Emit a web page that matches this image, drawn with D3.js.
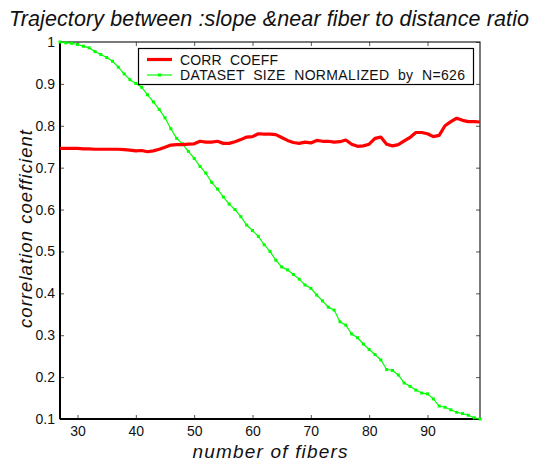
<!DOCTYPE html>
<html>
<head>
<meta charset="utf-8">
<script src="https://cdn.jsdelivr.net/npm/d3@7"></script>
<style>
  html, body { margin: 0; padding: 0; background: #fff; }
  svg { display: block; font-family: "Liberation Sans", Arial, sans-serif; }
</style>
</head>
<body>
<svg id="chart" width="534" height="461"></svg>
<script>
// Number of fibers (x), one sample per fiber count
const fiberCounts = d3.range(27, 100);

// Correlation coefficient between slope and near-fiber-to-distance ratio
const corrCoeff = [
  0.746, 0.746, 0.746, 0.746, 0.745, 0.745, 0.744, 0.744, 0.744, 0.744,
  0.744, 0.743, 0.742, 0.740, 0.741, 0.738, 0.740, 0.744, 0.749, 0.754,
  0.755, 0.755, 0.756, 0.757, 0.763, 0.761, 0.761, 0.763, 0.758, 0.758,
  0.762, 0.767, 0.773, 0.774, 0.781, 0.780, 0.780, 0.779, 0.772, 0.765,
  0.760, 0.758, 0.761, 0.759, 0.765, 0.763, 0.763, 0.761, 0.762, 0.766,
  0.756, 0.751, 0.752, 0.756, 0.770, 0.773, 0.756, 0.752, 0.755, 0.764,
  0.772, 0.784, 0.784, 0.781, 0.774, 0.777, 0.800, 0.810, 0.818, 0.813,
  0.810, 0.810, 0.809
];

// Dataset size normalized by N=626
const datasetSize = [
  1.000, 0.998, 0.997, 0.994, 0.990, 0.986, 0.977, 0.970, 0.963, 0.954,
  0.940, 0.924, 0.910, 0.901, 0.892, 0.874, 0.857, 0.839, 0.819, 0.793,
  0.770, 0.757, 0.739, 0.722, 0.703, 0.687, 0.665, 0.649, 0.630, 0.613,
  0.600, 0.583, 0.563, 0.550, 0.536, 0.516, 0.500, 0.479, 0.463, 0.456,
  0.445, 0.434, 0.420, 0.412, 0.396, 0.382, 0.367, 0.360, 0.332, 0.324,
  0.303, 0.294, 0.279, 0.266, 0.254, 0.241, 0.218, 0.216, 0.205, 0.186,
  0.178, 0.169, 0.162, 0.160, 0.148, 0.131, 0.128, 0.122, 0.116, 0.113,
  0.109, 0.103, 0.100
];

const xTicks = [30, 40, 50, 60, 70, 80, 90];
const yTicks = [0.1, 0.2, 0.3, 0.4, 0.5, 0.6, 0.7, 0.8, 0.9, 1];

const seriesNames = ["CORR  COEFF", "DATASET  SIZE  NORMALIZED  by  N=626"];
const seriesColors = ["#ff0000", "#00ff00"];

const svg = d3.select("#chart");
const plot = { left: 60, right: 480, top: 42, bottom: 419 };

const x = d3.scaleLinear().domain([27, 99]).range([plot.left, plot.right]);
const y = d3.scaleLinear().domain([0.1, 1]).range([plot.bottom, plot.top]);

// Axes with inward ticks on all four sides
const tickLen = 4;
const bottomAxis = svg.append("g").attr("transform", `translate(0,${plot.bottom})`)
  .call(d3.axisBottom(x).tickValues(xTicks).tickSize(-tickLen).tickPadding(7).tickFormat(d3.format("d")));
const topAxis = svg.append("g").attr("transform", `translate(0,${plot.top})`)
  .call(d3.axisTop(x).tickValues(xTicks).tickSize(-tickLen).tickFormat(""));
const leftAxis = svg.append("g").attr("transform", `translate(${plot.left},0)`)
  .call(d3.axisLeft(y).tickValues(yTicks).tickSize(-tickLen).tickPadding(5).tickFormat(d => d === 1 ? "1" : d3.format(".1f")(d)));
const rightAxis = svg.append("g").attr("transform", `translate(${plot.right},0)`)
  .call(d3.axisRight(y).tickValues(yTicks).tickSize(-tickLen).tickFormat(""));

[bottomAxis, topAxis, leftAxis, rightAxis].forEach(g => {
  g.select(".domain").remove();
  g.selectAll(".tick line").attr("stroke", "#555").attr("stroke-width", 1);
  g.selectAll(".tick text").attr("font-size", 14).attr("fill", "#111")
    .attr("font-family", "Liberation Sans, Arial, sans-serif");
});

// Frame
svg.append("rect")
  .attr("x", plot.left).attr("y", plot.top)
  .attr("width", plot.right - plot.left).attr("height", plot.bottom - plot.top)
  .attr("fill", "none").attr("stroke", "#222").attr("stroke-width", 1.2);
svg.append("line").attr("x1", plot.left).attr("x2", plot.left).attr("y1", plot.top).attr("y2", plot.bottom)
  .attr("stroke", "#000").attr("stroke-width", 2);
svg.append("line").attr("x1", plot.left).attr("x2", plot.right).attr("y1", plot.bottom).attr("y2", plot.bottom)
  .attr("stroke", "#000").attr("stroke-width", 2);

const line = d3.line().x((d, i) => x(fiberCounts[i])).y(d => y(d));

// Dataset size curve with point markers
svg.append("path").datum(datasetSize)
  .attr("d", line).attr("fill", "none")
  .attr("stroke", seriesColors[1]).attr("stroke-width", 1.2);
svg.append("g").selectAll("rect").data(datasetSize).join("rect")
  .attr("x", (d, i) => x(fiberCounts[i]) - 1.5)
  .attr("y", d => y(d) - 1.5)
  .attr("width", 3).attr("height", 3)
  .attr("fill", seriesColors[1]);

// Correlation coefficient curve
svg.append("path").datum(corrCoeff)
  .attr("d", line).attr("fill", "none")
  .attr("stroke", seriesColors[0]).attr("stroke-width", 3.2)
  .attr("stroke-linejoin", "round");

// Legend
const legend = svg.append("g");
legend.append("rect").attr("x", 138.5).attr("y", 48.5).attr("width", 335).attr("height", 36)
  .attr("fill", "#fff").attr("stroke", "#000").attr("stroke-width", 1.2);
const legendRows = [59.5, 75];
const legendTextWidths = [98, 285];
seriesNames.forEach((name, i) => {
  legend.append("line").attr("x1", 147).attr("x2", 172)
    .attr("y1", legendRows[i]).attr("y2", legendRows[i])
    .attr("stroke", seriesColors[i]).attr("stroke-width", i === 0 ? 3.2 : 1.2);
  if (i === 1) {
    legend.append("rect").attr("x", 158).attr("y", legendRows[i] - 1.5)
      .attr("width", 3).attr("height", 3).attr("fill", seriesColors[i]);
  }
  legend.append("text").attr("x", 180).attr("y", legendRows[i] + 5)
    .attr("font-size", 14).attr("fill", "#111")
    .attr("textLength", legendTextWidths[i]).attr("lengthAdjust", "spacing")
    .style("white-space", "pre")
    .text(name);
});

// Title and axis labels
svg.append("text").attr("x", 269).attr("y", 26)
  .attr("text-anchor", "middle").attr("font-size", 21.5).attr("font-style", "italic")
  .attr("textLength", 520).attr("lengthAdjust", "spacing")
  .attr("fill", "#111")
  .text("Trajectory between :slope &near fiber to distance ratio");
svg.append("text").attr("x", 270).attr("y", 458)
  .attr("text-anchor", "middle").attr("font-size", 19).attr("font-style", "italic")
  .attr("textLength", 155).attr("lengthAdjust", "spacing")
  .attr("fill", "#111")
  .text("number of fibers");
svg.append("text")
  .attr("transform", `translate(32,229) rotate(-90)`)
  .attr("text-anchor", "middle").attr("font-size", 18.5).attr("font-style", "italic")
  .attr("textLength", 198).attr("lengthAdjust", "spacing")
  .attr("fill", "#111")
  .text("correlation coefficient");
</script>
</body>
</html>
